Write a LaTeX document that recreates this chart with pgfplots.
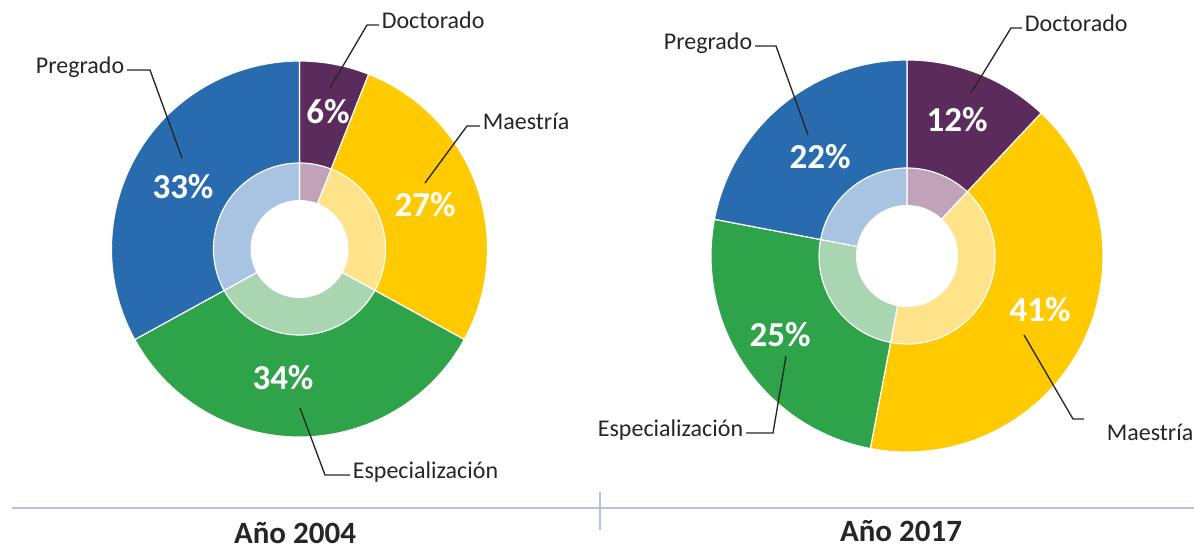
\documentclass[border=0pt]{standalone}
\usepackage{pgfplots}
\pgfplotsset{compat=1.18}
\usepackage{pgfplotstable}
\usepackage{fontspec}
\setmainfont{Carlito}

\definecolor{k0}{HTML}{5B2C5B}
\definecolor{k1}{HTML}{FFCA00}
\definecolor{k2}{HTML}{2EA34A}
\definecolor{k3}{HTML}{286BAE}
\definecolor{l0}{HTML}{C0A3B8}
\definecolor{l1}{HTML}{FFE38A}
\definecolor{l2}{HTML}{A9D6B1}
\definecolor{l3}{HTML}{A9C4E2}
\definecolor{rule}{HTML}{B3C5DD}

% shares in percent, clockwise from 12 o'clock
\pgfplotstableread{
name value
Doctorado 6
Maestria 27
Especializacion 34
Pregrado 33
}\tabA
\pgfplotstableread{
name value
Doctorado 12
Maestria 41
Especializacion 25
Pregrado 22
}\tabB

\newcommand\computeangles[2]{%
  \xdef\cum{90}%
  \pgfplotstableforeachcolumnelement{value}\of#1\as\v{%
    \pgfmathsetmacro\endang{\cum-3.6*\v}%
    \expandafter\xdef\csname #2s\pgfplotstablerow\endcsname{\cum}%
    \expandafter\xdef\csname #2e\pgfplotstablerow\endcsname{\endang}%
    \xdef\cum{\endang}%
  }}
\computeangles{\tabA}{A}
\computeangles{\tabB}{B}

\def\u{0.6pt}
% #1 prefix, #2 cx, #3 cy, #4 R, #5 Rmid, #6 Rin
\newcommand\donut[6]{%
  \pgfplotsinvokeforeach{0,...,3}{%
    \fill[k##1, draw=white, line width=0.7pt] (axis cs:#2,#3) -- ++(\csname #1s##1\endcsname:{#4*\u})
      arc[start angle=\csname #1s##1\endcsname, end angle=\csname #1e##1\endcsname, radius={#4*\u}] -- cycle;
  }
  \pgfplotsinvokeforeach{0,...,3}{%
    \fill[l##1, draw=white, line width=0.7pt] (axis cs:#2,#3) -- ++(\csname #1s##1\endcsname:{#5*\u})
      arc[start angle=\csname #1s##1\endcsname, end angle=\csname #1e##1\endcsname, radius={#5*\u}] -- cycle;
  }
  \fill[white] (axis cs:#2,#3) circle[radius={#6*\u}];
}

\begin{document}
\begin{tikzpicture}[
  pct/.style={text=white, font=\fontsize{21}{21}\selectfont\bfseries},
  lab/.style={text=black!85, font=\fontsize{14.4}{14.4}\selectfont, inner sep=1.5pt},
  ldr/.style={black!85, line width=0.8pt}]
\begin{axis}[x=0.6pt, y=0.6pt, xmin=0, xmax=1194, ymin=0, ymax=550,
  hide axis, clip=false, scale only axis]

\donut{A}{299.5}{301}{188}{86}{49}
\donut{B}{907}{294}{196}{88}{51}

% percentages 2004
\node[pct] at (axis cs:328,438) {6\%};
\node[pct] at (axis cs:425,345) {27\%};
\node[pct] at (axis cs:183,363) {33\%};
\node[pct] at (axis cs:283,172) {34\%};
% percentages 2017
\node[pct] at (axis cs:957,430) {12\%};
\node[pct] at (axis cs:820,393) {22\%};
\node[pct] at (axis cs:780,215) {25\%};
\node[pct] at (axis cs:1040,240) {41\%};

% leaders and labels 2004
\draw[ldr] (axis cs:330,462) -- (axis cs:367,525) -- (axis cs:379,525);
\node[lab, anchor=mid west] at (axis cs:379,525) {Doctorado};
\draw[ldr] (axis cs:425,367) -- (axis cs:467,424) -- (axis cs:480,424);
\node[lab, anchor=mid west] at (axis cs:480,424) {Maestría};
\draw[ldr] (axis cs:127,480) -- (axis cs:150,480) -- (axis cs:182,392);
\node[lab, anchor=mid east] at (axis cs:127,480) {Pregrado};
\draw[ldr] (axis cs:300,142) -- (axis cs:325,75) -- (axis cs:350,75);
\node[lab, anchor=mid west] at (axis cs:350,75) {Especialización};

% leaders and labels 2017
\draw[ldr] (axis cs:971,457) -- (axis cs:1011,522) -- (axis cs:1022,522);
\node[lab, anchor=mid west] at (axis cs:1022,522) {Doctorado};
\draw[ldr] (axis cs:755,504) -- (axis cs:776,504) -- (axis cs:808,415);
\node[lab, anchor=mid east] at (axis cs:755,504) {Pregrado};
\draw[ldr] (axis cs:746,117) -- (axis cs:773,117) -- (axis cs:786,194);
\node[lab, anchor=mid east] at (axis cs:746,117) {Especialización};
\draw[ldr] (axis cs:1024,215) -- (axis cs:1073,131) -- (axis cs:1084,131);
\node[lab, anchor=mid west] at (axis cs:1104,113) {Maestría};

% bottom rule and titles
\draw[rule, line width=0.8pt] (axis cs:12,42) -- (axis cs:1194,42);
\draw[rule, line width=0.8pt] (axis cs:600,58) -- (axis cs:600,20);
\node[font=\fontsize{18.6}{18.6}\selectfont\bfseries, text=black!85, anchor=base, inner sep=1pt] at (axis cs:295,7) {Año 2004};
\node[font=\fontsize{18.6}{18.6}\selectfont\bfseries, text=black!85, anchor=base, inner sep=1pt] at (axis cs:901,9) {Año 2017};
\end{axis}
\pgfresetboundingbox
\useasboundingbox (0,0) rectangle (716.4pt,330pt);
\end{tikzpicture}
\end{document}
